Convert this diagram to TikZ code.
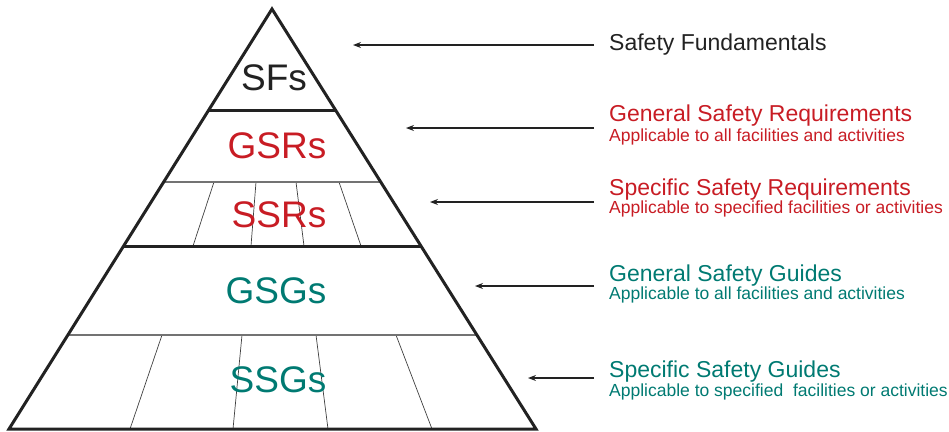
\documentclass[tikz,border=0pt]{standalone}
\usepackage{fontspec}
\setmainfont{Liberation Sans}
\usetikzlibrary{calc,arrows.meta}
\definecolor{redc}{RGB}{200,28,36}
\definecolor{tealc}{RGB}{0,122,114}
\definecolor{darkc}{RGB}{34,34,34}
\begin{document}
\begin{tikzpicture}[x=1pt,y=-1pt,
  thickline/.style={line width=3pt,draw=darkc},
  thinline/.style={line width=1.1pt,draw=black!55},
  divider/.style={line width=0.7pt,draw=black!75},
  biglabel/.style={font=\fontsize{37}{40}\selectfont,anchor=base,inner sep=0pt},
  title/.style={font=\fontsize{23}{26}\selectfont,anchor=base west,inner sep=0pt},
  subtitle/.style={font=\fontsize{17.5}{20}\selectfont,anchor=base west,inner sep=0pt},
  arr/.style={line width=1.2pt,draw=darkc,-{Stealth[length=8pt,width=6pt]}}]
\useasboundingbox (0,0) rectangle (949,431);
% pyramid
\coordinate (A) at (272,9);
\coordinate (BL) at (9,429);
\coordinate (BR) at (536,429);
\foreach \n/\f in {1/0.2405,2/0.4119,3/0.5643,4/0.7762}{
  \coordinate (L\n) at ($(A)!\f!(BL)$);
  \coordinate (R\n) at ($(A)!\f!(BR)$);
}
% dividers SSR
\foreach \t/\b in {214/193,256/251,296/304,339/361}{
  \draw[divider] (\t,182) -- (\b,246);
}
% dividers SSG
\foreach \t/\b in {162/130,242/233,316/328,396/432}{
  \draw[divider] (\t,335) -- (\b,429);
}
\draw[thinline] (L2) -- (R2);
\draw[thinline] (L4) -- (R4);
\draw[thickline] (L1) -- (R1);
\draw[thickline] (L3) -- (R3);
\draw[thickline,line join=miter] (A) -- (BL) -- (BR) -- cycle;
% labels in pyramid
\node[biglabel,text=darkc] (sfs) at (274,90) {SFs};
\node[biglabel,text=redc] (gsrs) at (277,158) {GSRs};
\node[biglabel,text=redc] (ssrs) at (279,227) {SSRs};
\node[biglabel,text=tealc] (gsgs) at (276,303) {GSGs};
\node[biglabel,text=tealc] (ssgs) at (278,392) {SSGs};
% right texts
\node[title,text=darkc] (t1) at (609,50) {Safety Fundamentals};
\node[title,text=redc] (t2) at (609,121) {General Safety Requirements};
\node[subtitle,text=redc] (s2) at (609,141) {Applicable to all facilities and activities};
\node[title,text=redc] (t3) at (609,195) {Specific Safety Requirements};
\node[subtitle,text=redc] (s3) at (609,213) {Applicable to specified facilities or activities};
\node[title,text=tealc] (t4) at (609,281) {General Safety Guides};
\node[subtitle,text=tealc] (s4) at (609,299) {Applicable to all facilities and activities};
\node[title,text=tealc] (t5) at (609,377) {Specific Safety Guides};
\node[subtitle,text=tealc] (s5) at (609,396) {Applicable to specified\ \ facilities or activities};
% arrows
\coordinate (a1s) at (594,45);  \coordinate (a1e) at (353,45);
\coordinate (a2s) at (594,128); \coordinate (a2e) at (406,128);
\coordinate (a3s) at (594,202); \coordinate (a3e) at (430,202);
\coordinate (a4s) at (594,286); \coordinate (a4e) at (475,286);
\coordinate (a5s) at (594,378); \coordinate (a5e) at (528,378);
\foreach \i in {1,...,5}{\draw[arr] (a\i s) -- (a\i e);}
\end{tikzpicture}
\end{document}
